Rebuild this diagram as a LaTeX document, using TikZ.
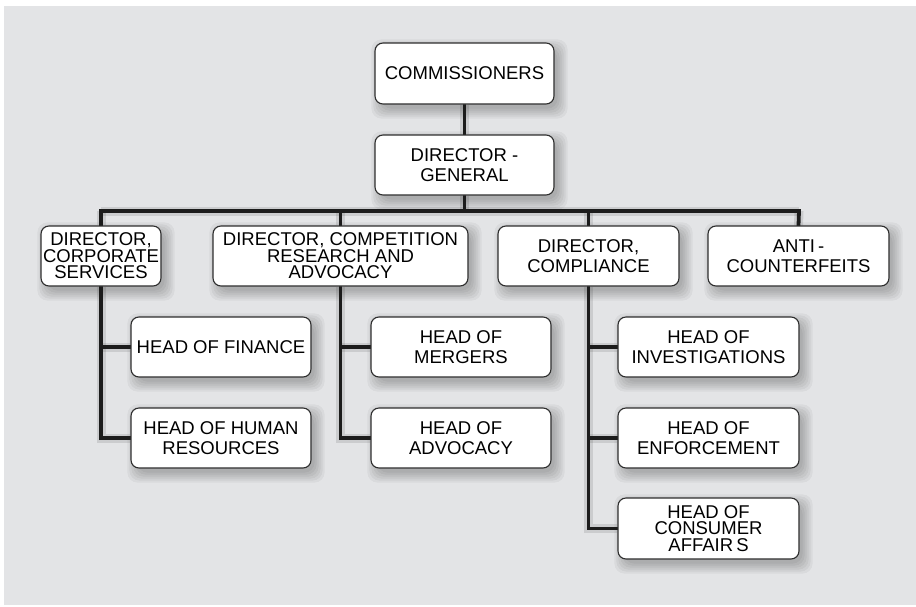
\documentclass[tikz,border=0pt]{standalone}
\usepackage{fontspec}
\setmainfont{Liberation Sans}
\usetikzlibrary{calc}
\pgfdeclarelayer{bg}
\pgfdeclarelayer{background}
\pgfsetlayers{bg,background,main}
\definecolor{bgcol}{HTML}{E3E4E6}
\definecolor{linecol}{HTML}{1C1C1C}
\definecolor{edgecol}{HTML}{2E2E2E}
\tikzset{
  orgbox/.style={draw=edgecol, line width=1.1pt, fill=white, rounded corners=8pt,
    align=center, inner sep=1pt, font=\fontsize{18.5}{20}\selectfont},
  tight/.style={font=\fontsize{18.5}{16.5}\selectfont},
  conn/.style={draw=linecol, line width=3.8pt, line join=miter, line cap=rect},
  connshadow/.style={draw=black, opacity=0.10, line width=9pt, line join=miter, shift={(3pt,-3pt)}},
  softshadow/.style={fill=black, opacity=0.045, rounded corners=10pt},
}
\begin{document}
\begin{tikzpicture}[x=1pt,y=-1pt]
\useasboundingbox (0,0) rectangle (916,606);
\begin{pgfonlayer}{bg}
\fill[bgcol] (4,6) rectangle (916,605);
\end{pgfonlayer}

\node[orgbox, minimum width=179pt, minimum height=61pt] (com) at (464.5,73.5) {COMMISSIONERS};
\node[orgbox, minimum width=179pt, minimum height=60pt] (dg) at (464.5,165) {DIRECTOR -\\GENERAL};

\node[orgbox, tight, minimum width=120pt, minimum height=60pt] (cs) at (101,256) {DIRECTOR,\\CORPORATE\\SERVICES};
\node[orgbox, tight, minimum width=255pt, minimum height=60pt] (cra) at (340.5,256) {DIRECTOR, COMPETITION\\RESEARCH AND\\ADVOCACY};
\node[orgbox, minimum width=181pt, minimum height=60pt] (comp) at (588.5,256) {DIRECTOR,\\COMPLIANCE};
\node[orgbox, minimum width=181pt, minimum height=60pt] (anti) at (798.5,256) {ANTI\,-\\COUNTERFEITS};

\node[orgbox, minimum width=180pt, minimum height=60pt] (fin) at (221,347) {HEAD OF FINANCE};
\node[orgbox, minimum width=180pt, minimum height=60pt] (hr) at (221,438) {HEAD OF HUMAN\\RESOURCES};
\node[orgbox, minimum width=180pt, minimum height=60pt] (merg) at (461,347) {HEAD OF\\MERGERS};
\node[orgbox, minimum width=180pt, minimum height=60pt] (advo) at (461,438) {HEAD OF\\ADVOCACY};
\node[orgbox, minimum width=181pt, minimum height=60pt] (inv) at (708.5,347) {HEAD OF\\INVESTIGATIONS};
\node[orgbox, minimum width=181pt, minimum height=60pt] (enf) at (708.5,438) {HEAD OF\\ENFORCEMENT};
\node[orgbox, tight, minimum width=181pt, minimum height=61pt] (cons) at (708.5,528.5) {HEAD OF\\CONSUMER\\AFFAIR\,S};

\coordinate (barL) at (101,211);
\coordinate (barR) at (799,211);

\begin{pgfonlayer}{background}
\foreach \n in {com,dg,cs,cra,comp,anti,fin,hr,merg,advo,inv,enf,cons}{
  \foreach \k in {-2,0,2,4,6,8}{
    \fill[softshadow] ($(\n.north west)+(5-\k,5-\k)$) rectangle ($(\n.south east)+(5+\k,6+\k)$);
  }
}
\foreach \sty in {connshadow,conn}{
  \path[\sty] (com.south) -- (dg.north);
  \path[\sty] (dg.south) -- (dg.south |- barL);
  \path[\sty] (barL) -- (barR);
  \path[\sty] (barL) -- (cs.north);
  \path[\sty] (cra.north |- barL) -- (cra.north);
  \path[\sty] (comp.north |- barL) -- (comp.north);
  \path[\sty] (barR) -- (anti.north);
  \path[\sty] (cs.south) -- (cs.south |- hr.west) -- (hr.west);
  \path[\sty] (cs.south |- fin.west) -- (fin.west);
  \path[\sty] (cra.south) -- (cra.south |- advo.west) -- (advo.west);
  \path[\sty] (cra.south |- merg.west) -- (merg.west);
  \path[\sty] (comp.south) -- (comp.south |- cons.west) -- (cons.west);
  \path[\sty] (comp.south |- inv.west) -- (inv.west);
  \path[\sty] (comp.south |- enf.west) -- (enf.west);
}
\end{pgfonlayer}
\end{tikzpicture}
\end{document}
